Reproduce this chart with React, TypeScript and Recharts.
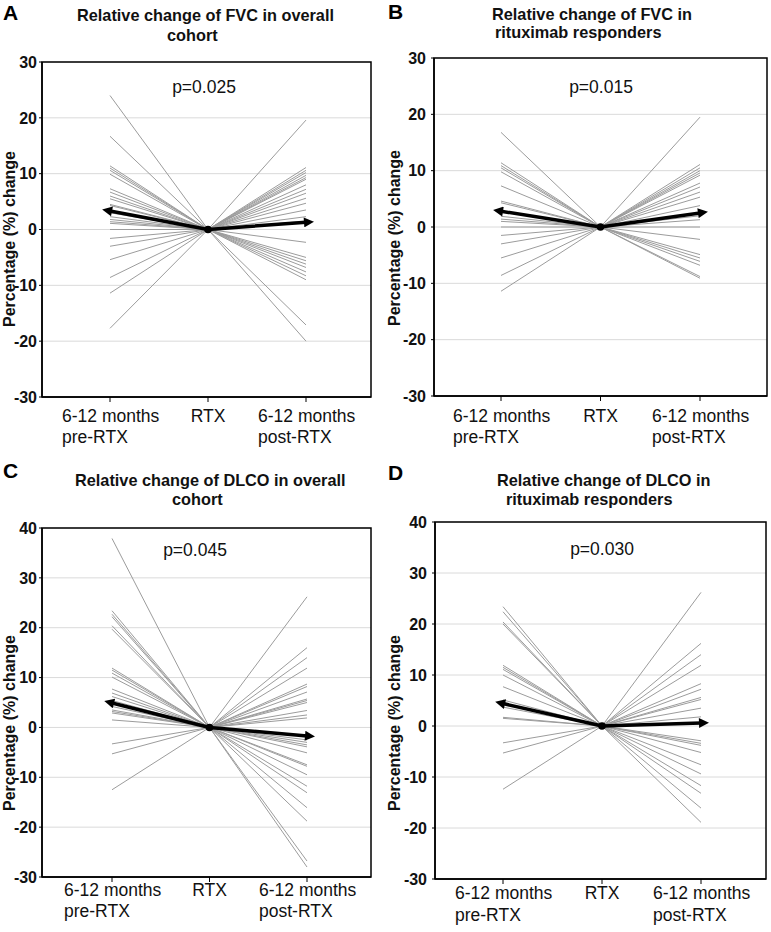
import React from 'react';
import { LineChart, Line, XAxis, YAxis, CartesianGrid } from 'recharts';

// ---------- data ----------
const categories = ['pre', 'RTX', 'post'];
const tickText: Record<string, string[]> = {
  pre: ['6-12 months', 'pre-RTX'],
  RTX: ['RTX'],
  post: ['6-12 months', 'post-RTX'],
};

const preA = [24.0, 16.7, 11.4, 11.0, 10.6, 9.9, 7.3, 6.7, 6.0, 5.5, 4.5, 4.3, 3.0, 2.3, 1.8, 1.4, 1.1, 0.0, -1.6, -3.0, -5.4, -8.6, -11.4, -17.7];
const postA = [19.6, 11.1, 10.6, 10.2, 9.7, 9.3, 9.0, 8.0, 7.2, 6.5, 5.6, 4.7, 3.5, 2.3, 1.5, -2.3, -5.0, -5.6, -6.2, -6.8, -7.6, -8.3, -9.0, -17.1, -20.0];
const meanA = [3.3, 1.3];

const preB = [16.8, 11.4, 10.9, 10.5, 9.8, 7.3, 4.6, 4.3, 2.8, 1.9, 1.4, 1.0, 0.0, -1.5, -3.0, -5.5, -8.6, -11.4];
const postB = [19.5, 11.1, 10.5, 10.0, 9.6, 9.2, 7.8, 7.1, 6.2, 5.3, 3.8, 2.0, 1.3, 0.0, -2.2, -4.9, -5.5, -6.1, -6.8, -8.8, -9.1];
const meanB = [2.8, 2.5];

const preC = [37.9, 23.4, 22.7, 22.2, 20.4, 19.7, 11.9, 11.5, 10.9, 10.1, 7.7, 6.9, 6.2, 5.4, 4.2, 3.5, 3.2, 2.9, 1.5, -3.3, -5.3, -12.5];
const postC = [26.2, 16.0, 14.0, 11.9, 8.7, 8.2, 7.1, 5.7, 5.4, 5.0, 3.4, 2.5, 1.9, -2.5, -3.0, -3.5, -3.9, -5.1, -7.5, -7.8, -9.5, -11.8, -13.1, -16.1, -18.8, -26.8, -28.0];
const meanC = [4.9, -1.7];

const preD = [23.4, 22.4, 20.4, 20.0, 11.9, 11.5, 11.1, 10.0, 7.7, 5.1, 4.4, 3.7, 1.7, 1.5, -3.3, -5.3, -12.4];
const postD = [26.2, 16.2, 14.0, 11.9, 8.3, 7.2, 5.6, 5.2, 3.5, 1.8, -2.9, -3.4, -3.8, -5.2, -7.6, -9.4, -11.7, -13.2, -16.1, -18.9];
const meanD = [4.4, 0.6];

const ticksFVC = [-30, -20, -10, 0, 10, 20, 30];
const ticksDLCO = [-30, -20, -10, 0, 10, 20, 30, 40];

const yLabel = 'Percentage (%) change';

// ---------- layout ----------
const panels = [
  {
    id: 'A', x: 0, y: 0, w: 385, h: 460, plotL: 42, plotR: 371, plotT: 62, plotB: 397, padL: 68, padR: 65,
    domain: [-30, 30], ticks: ticksFVC, yGap: 5, g1: 25, g2: 46,
    pre: preA, post: postA, mean: meanA,
    title: [{ t: 'Relative change of FVC in overall', x: 77, y: 21 }, { t: 'cohort', x: 167, y: 40.5 }],
    letterY: 20, p: 'p=0.025', px: 204, py: 93, ly: 239,
  },
  {
    id: 'B', x: 385, y: 0, w: 386, h: 460, plotL: 49, plotR: 382, plotT: 58, plotB: 396, padL: 67, padR: 67,
    domain: [-30, 30], ticks: ticksFVC, yGap: 8, g1: 25.5, g2: 47,
    pre: preB, post: postB, mean: meanB,
    title: [{ t: 'Relative change of FVC in', x: 107, y: 20 }, { t: 'rituximab responders', x: 110, y: 38 }],
    letterY: 19, p: 'p=0.015', px: 216, py: 93, ly: 238,
  },
  {
    id: 'C', x: 0, y: 460, w: 385, h: 472, plotL: 42, plotR: 371, plotT: 68, plotB: 417, padL: 70, padR: 64,
    domain: [-30, 40], ticks: ticksDLCO, yGap: 5, g1: 19, g2: 40,
    pre: preC, post: postC, mean: meanC,
    title: [{ t: 'Relative change of DLCO in overall', x: 75, y: 26 }, { t: 'cohort', x: 172, y: 45 }],
    letterY: 18, p: 'p=0.045', px: 195, py: 95.5, ly: 263,
  },
  {
    id: 'D', x: 385, y: 460, w: 386, h: 472, plotL: 50, plotR: 381, plotT: 62, plotB: 419, padL: 68, padR: 65,
    domain: [-30, 40], ticks: ticksDLCO, yGap: 8, g1: 20, g2: 42,
    pre: preD, post: postD, mean: meanD,
    title: [{ t: 'Relative change of DLCO in', x: 112, y: 26 }, { t: 'rituximab responders', x: 121, y: 45 }],
    letterY: 20, p: 'p=0.030', px: 217, py: 94.5, ly: 263,
  },
];

const SANS = '"Liberation Sans", Arial, Helvetica, sans-serif';
const NARROW = '"Liberation Sans Narrow", "Arial Narrow", "Liberation Sans", Arial, sans-serif';

function buildRows(pre: number[], post: number[], mean: number[]) {
  const n = Math.max(pre.length, post.length);
  const rows: any[] = categories.map((c) => ({ cat: c }));
  for (let i = 0; i < n; i++) {
    rows[0]['s' + i] = i < pre.length ? pre[i] : null;
    rows[1]['s' + i] = 0;
    rows[2]['s' + i] = i < post.length ? post[i] : null;
  }
  rows[0].mean = mean[0];
  rows[1].mean = 0;
  rows[2].mean = mean[1];
  return { rows, n };
}

const XTick = (props: any) => {
  const { x, payload, plotB, g1, g2 } = props;
  const lines = tickText[payload.value] || [String(payload.value)];
  const style = { fontFamily: SANS, fontSize: 17.5, fill: '#111' };
  if (lines.length === 1) {
    return (
      <text x={x} y={plotB + g1} textAnchor="middle" style={style}>
        {lines[0]}
      </text>
    );
  }
  return (
    <text style={style} textAnchor="start">
      <tspan x={x - 48} y={plotB + g1}>{lines[0]}</tspan>
      <tspan x={x - 48} y={plotB + g2}>{lines[1]}</tspan>
    </text>
  );
};

const meanDot = (p: any) => {
  if (p.index === 1) {
    return <circle key={'md' + p.index} cx={p.cx} cy={p.cy} r={3.8} fill="#000" />;
  }
  return <g key={'md' + p.index} />;
};

function Panel({ cfg }: { cfg: any }) {
  const { rows, n } = buildRows(cfg.pre, cfg.post, cfg.mean);
  const series = [];
  for (let i = 0; i < n; i++) {
    series.push(
      <Line
        key={'s' + i}
        dataKey={'s' + i}
        stroke="#9c9c9c"
        strokeWidth={1}
        dot={false}
        activeDot={false}
        isAnimationActive={false}
        connectNulls={false}
      />
    );
  }
  return (
    <div style={{ position: 'absolute', left: cfg.x, top: cfg.y, width: cfg.w, height: cfg.h }}>
      <LineChart
        width={cfg.w}
        height={cfg.h}
        data={rows}
        margin={{ top: cfg.plotT, right: cfg.w - cfg.plotR, bottom: 0, left: 0 }}
      >
        <CartesianGrid horizontal vertical={false} stroke="#dadada" strokeWidth={1} />
        <XAxis
          dataKey="cat"
          height={cfg.h - cfg.plotB}
          padding={{ left: cfg.padL, right: cfg.padR }}
          tickSize={5}
          interval={0}
          axisLine={{ stroke: '#000', strokeWidth: 1.5 }}
          tickLine={{ stroke: '#000', strokeWidth: 1 }}
          tick={<XTick plotB={cfg.plotB} g1={cfg.g1} g2={cfg.g2} />}
        />
        <YAxis
          type="number"
          domain={cfg.domain}
          ticks={cfg.ticks}
          interval={0}
          width={cfg.plotL}
          tickSize={3}
          tickMargin={cfg.yGap - 3}
          axisLine={{ stroke: '#000', strokeWidth: 1.5 }}
          tickLine={{ stroke: '#000', strokeWidth: 1 }}
          tick={{ fontFamily: NARROW, fontWeight: 700, fontSize: 16, fill: '#111' }}
        />
        {series}
        <Line
          dataKey="mean"
          stroke="#000"
          strokeWidth={3.5}
          strokeLinejoin="round"
          markerStart="url(#arrowHead)"
          markerEnd="url(#arrowHead)"
          dot={meanDot}
          activeDot={false}
          isAnimationActive={false}
        />
      </LineChart>
      <svg
        width={cfg.w}
        height={cfg.h}
        style={{ position: 'absolute', left: 0, top: 0, pointerEvents: 'none' }}
      >
        <rect
          x={cfg.plotL}
          y={cfg.plotT}
          width={cfg.plotR - cfg.plotL}
          height={cfg.plotB - cfg.plotT}
          fill="none"
          stroke="#000"
          strokeWidth={1.5}
        />
        <text x={3} y={cfg.letterY} style={{ fontFamily: SANS, fontWeight: 700, fontSize: 21, fill: '#000' }}>
          {cfg.id}
        </text>
        {cfg.title.map((l: any, i: number) => (
          <text key={i} x={l.x} y={l.y} style={{ fontFamily: SANS, fontWeight: 700, fontSize: 16.3, fill: '#111' }}>
            {l.t}
          </text>
        ))}
        <text x={cfg.px} y={cfg.py} textAnchor="middle" style={{ fontFamily: SANS, fontSize: 17.5, fill: '#111' }}>
          {cfg.p}
        </text>
        <text
          transform={`translate(15, ${cfg.ly}) rotate(-90)`}
          textAnchor="middle"
          style={{ fontFamily: SANS, fontWeight: 700, fontSize: 16, fill: '#111' }}
        >
          {yLabel}
        </text>
      </svg>
    </div>
  );
}

export default function App() {
  return (
    <div style={{ position: 'absolute', left: 0, top: 0, width: 771, height: 932, background: '#fff' }}>
      <svg width={0} height={0} style={{ position: 'absolute' }}>
        <defs>
          <marker
            id="arrowHead"
            viewBox="0 0 10 10"
            refX={2}
            refY={5}
            markerWidth={13}
            markerHeight={10}
            markerUnits="userSpaceOnUse"
            orient="auto-start-reverse"
          >
            <path d="M0,0 L10,5 L0,10 z" fill="#000" />
          </marker>
        </defs>
      </svg>
      {panels.map((p) => (
        <Panel key={p.id} cfg={p} />
      ))}
    </div>
  );
}
